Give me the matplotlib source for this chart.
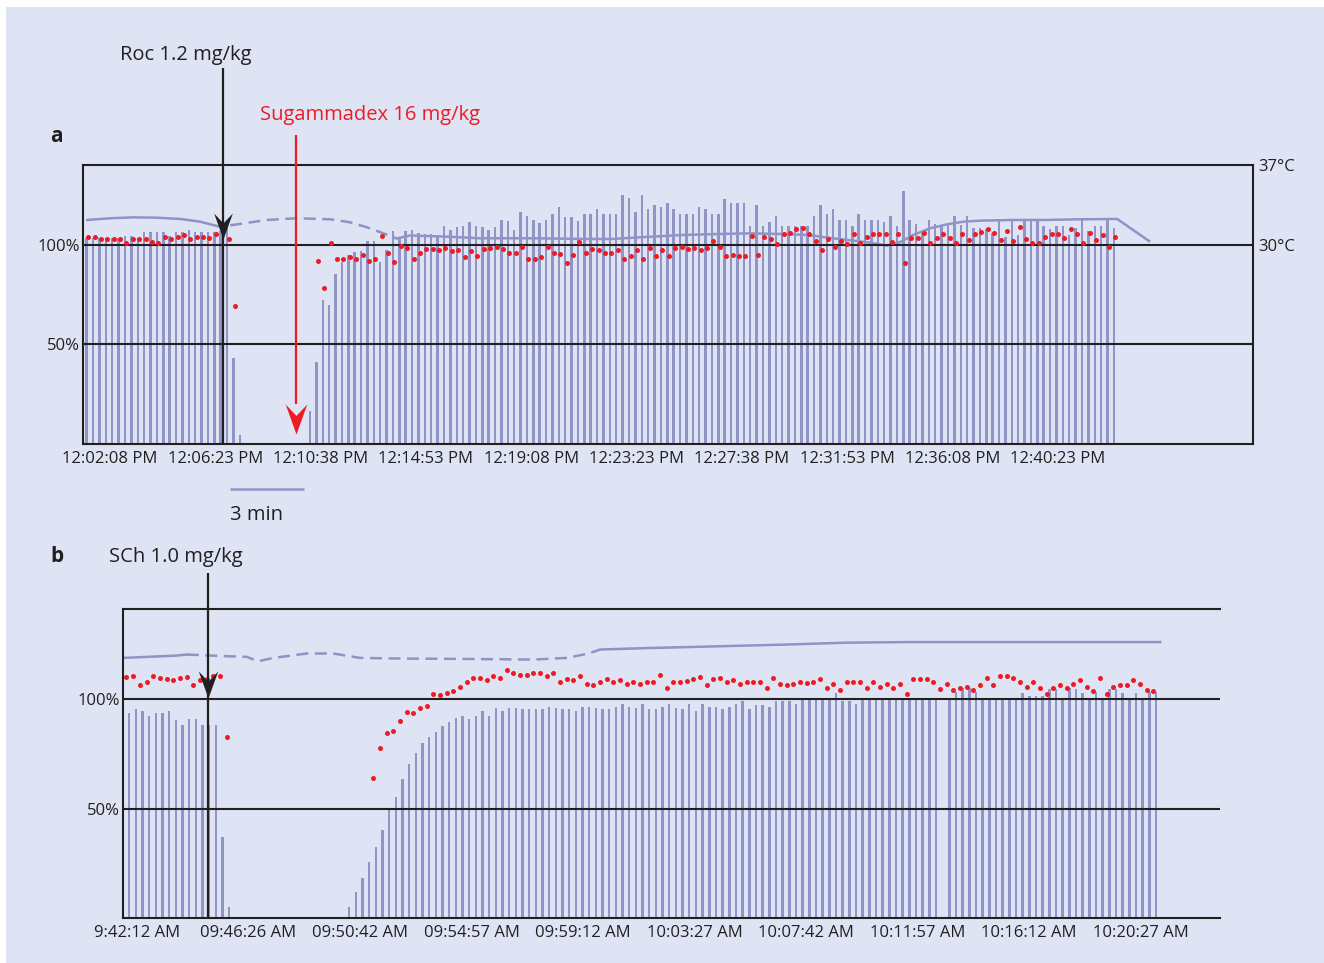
import numpy as np
import matplotlib
matplotlib.use("Agg")
import matplotlib.pyplot as plt
from matplotlib.path import Path
from matplotlib.patches import Rectangle

plt.rcParams['font.family'] = ['Open Sans', 'DejaVu Sans']


def clock(label):
    # "12:02:08 PM" -> seconds since midnight
    parts = label.split()
    h, m, s = [float(v) for v in parts[0].split(':')]
    if len(parts) > 1:
        if parts[1] == 'PM' and h < 12:
            h += 12
        if parts[1] == 'AM' and h == 12:
            h = 0
    return h * 3600 + m * 60 + s


# ---------------- panel a : rocuronium / sugammadex ----------------
a_ticks = ["12:02:08 PM", "12:06:23 PM", "12:10:38 PM", "12:14:53 PM", "12:19:08 PM",
           "12:23:23 PM", "12:27:38 PM", "12:31:53 PM", "12:36:08 PM", "12:40:23 PM"]
a_first = clock("12:01:12 PM") - 0.4   # first TOF sample
a_step = 15.45                          # s between TOF samples
a_origin = clock("12:00:00 PM")

# T1 height (% of baseline), one per sample, 0 = no response
a_t1 = [103.4, 103.4, 103.4, 103.4, 103.4, 103.4, 104.6, 104.6, 103.4, 106.3,
        106.3, 106.3, 106.3, 104.6, 106.3, 106.3, 107.6, 106.3, 106.3, 106.3,
        106.3, 107.0, 109.7, 43.4, 4.4,
        0, 0, 0, 0, 0, 0, 0, 0, 0, 0,
        16.7, 41.3, 72.3, 69.9, 85.5, 91.5, 94.9, 96.6, 97.1,
        102.0, 102.0, 91.5, 97.4, 106.8, 103.4, 106.8, 107.6, 106.0, 105.4,
        105.4, 105.1, 109.7, 107.6, 108.8, 109.4, 111.6, 109.4, 109.0, 107.6,
        109.0, 112.8, 112.2, 107.6, 116.7, 114.4, 112.8, 111.1, 112.8, 115.6,
        119.0, 114.1, 114.1, 112.2, 115.8, 115.6, 117.9, 115.8, 115.6, 115.6,
        125.2, 123.8, 116.7, 125.2, 117.9, 119.9, 119.0, 120.9, 117.9, 115.8,
        115.8, 115.8, 119.0, 117.9, 115.8, 115.8, 123.0, 120.9, 120.9, 120.9,
        109.7, 119.9, 109.7, 111.6, 114.8, 109.7, 109.7, 109.7, 109.7, 109.7,
        114.8, 119.9, 115.8, 117.9, 112.8, 112.8, 109.4, 115.8, 112.8, 112.8,
        112.8, 111.6, 114.8, 109.7, 126.9,
        112.8, 110.7, 107.1, 112.8, 110.6, 109.4, 110.6, 114.8, 110.0, 114.8,
        108.5, 108.5, 108.0, 106.0, 111.9, 104.0, 112.8, 105.1, 112.8, 112.8,
        112.8, 109.7, 108.0, 109.7, 109.7, 105.1, 108.5, 112.4, 107.0, 109.7,
        109.7, 112.4, 108.5]

# TOF ratio (%), None where no ratio was measured
a_ratio = [103.9, 103.9, 102.9, 102.9, 102.9, 102.9, 100.9, 102.9, 102.9, 102.9,
           101.7, 101.2, 103.9, 102.9, 103.9, 105.1, 102.9, 103.9, 103.9, 103.4,
           105.4, None, 102.9, 69.4,
           None, None, None, None, None, None, None, None, None, None, None, None,
           91.8, 78.4, 101.2, 93.2, 93.0, 94.0, 93.2, 95.2, 91.8, 93.2,
           104.6, 96.1, 91.5, 99.6, 98.6, 93.2, 96.1, 98.0, 98.0, 97.5,
           98.6, 97.1, 97.5, 94.0, 97.1, 94.5, 98.0, 98.6, 98.8, 98.0,
           96.1, 96.1, 98.8, 93.2, 93.2, 94.0, 98.8, 96.1, 95.4, 91.2,
           94.9, 101.4, 96.1, 97.8,
           97.4, 96.1, 96.1, 97.4, 93.2, 94.4, 97.4, 93.2, 98.3, 94.6,
           97.7, 94.6, 98.6, 99.0, 98.1, 98.6, 97.7, 98.6, 102.0, 99.1,
           94.4, 94.9, 94.4, 94.4, 104.3, 94.9, 104.1, 102.9, 100.3, 105.4,
           106.0, 108.2, 108.5, 105.4, 102.0, 97.7, 102.9, 99.0, 102.0, 100.3,
           105.6, 100.9, 104.1, 105.4, 105.4, 105.6, 101.7, 105.6, 91.2, 103.4,
           103.4,
           106.0, 100.9, 103.7, 105.6, 103.7, 100.9, 105.6, 102.6, 105.4, 106.3,
           108.2, 106.0, 102.6, 106.8, 102.0, 109.0, 102.9, 100.9, 100.9, 103.9,
           105.6, 105.6, 103.4, 108.0, 105.6, 100.9, 106.0, 102.4, 105.1, 98.8,
           103.9]

# central temperature (°C); times in s after 12:00:00
a_temp1_t = [73, 128, 184, 241, 298, 346, 378, 394]
a_temp1 = [32.19, 32.34, 32.42, 32.39, 32.28, 32.04, 31.75, 31.60]
a_temp2_t = [419, 508, 580, 661, 709, 750, 790, 822]
a_temp2 = [31.72, 32.19, 32.34, 32.25, 31.99, 31.55, 31.02, 30.57]
a_temp3_t = [822, 855, 943, 1024, 1152, 1273, 1346, 1395, 1516, 1598, 1678, 1758, 1816,
             1879, 1961, 2010, 2041, 2073, 2114, 2155, 2194, 2235, 2315, 2395, 2477, 2567, 2644]
a_temp3 = [30.57, 30.83, 30.73, 30.59, 30.59, 30.53, 30.53, 30.64, 30.88, 30.96, 31.02, 30.96, 30.88,
           30.59, 30.24, 29.94, 30.24, 30.88, 31.46, 31.81, 32.04, 32.13, 32.19, 32.19, 32.25, 32.28, 30.35]

roc_time = clock("12:06:41 PM")
sug_time = clock("12:09:38 PM")
scale_min = 3

# ---------------- panel b : succinylcholine ----------------
b_ticks = ["9:42:12 AM", "09:46:26 AM", "09:50:42 AM", "09:54:57 AM", "09:59:12 AM",
           "10:03:27 AM", "10:07:42 AM", "10:11:57 AM", "10:16:12 AM", "10:20:27 AM"]
b_first = clock("09:41:54 AM")
b_step = 15.25
b_origin = clock("09:00:00 AM")

b_t1 = [93.9, 95.4, 94.8, 92.4, 93.9, 93.9, 94.8, 90.5, 88.2, 91.1,
        91.1, 88.2, 88.2, 88.2, 37.2, 4.9,
        0, 0, 0, 0, 0, 0, 0, 0, 0, 0, 0, 0, 0, 0, 0, 0, 0,
        4.9, 11.7, 18.4, 25.7, 32.3, 40.2, 49.4, 55.5, 63.4, 70.4,
        75.6, 79.9, 82.9, 85.2, 87.8, 89.5, 91.3, 92.4, 91.0, 92.4,
        94.6, 92.4, 95.9, 94.6, 95.9, 95.9, 95.4, 95.4, 95.4, 95.4,
        96.6, 95.9, 95.4, 95.4, 94.6, 96.6, 96.6, 95.9,
        95.7, 95.7, 96.6, 97.7, 96.6, 96.2, 98.0, 95.7, 95.7, 96.6,
        97.7, 96.2, 95.7, 98.0, 94.6, 97.7, 96.6, 96.6, 95.7, 96.6,
        97.7, 99.2, 95.7, 97.4, 97.4, 96.6, 99.2, 99.2, 99.2, 98.0,
        100.5, 100.5, 100.0, 100.5, 100.0, 103.0, 99.2, 99.2, 97.7, 100.5,
        100.5, 100.0, 100.0, 100.5, 99.7, 100.5, 100.0, 100.5, 100.0,
        100.4, 100.4, 0, 100.4, 103.5, 105.0, 105.0, 103.5, 100.4, 100.4,
        100.4, 100.4, 100.4, 100.4, 102.7, 101.5, 101.5, 101.5, 104.6, 104.6,
        100.4, 105.0, 104.6, 102.7, 100.4, 103.5, 100.4, 104.6, 104.6, 102.7,
        100.4, 102.7, 100.4, 103.5, 103.5]

b_ratio = [110.1, 110.8, 106.5, 108.0, 110.7, 109.9, 109.1, 108.8, 109.9, 110.1,
           106.5, 108.8, 109.1, 110.7, 110.7, 82.9] + [None] * 21 + \
          [64.2, 77.6, 84.4, 85.6, 90.1, 94.3, 93.6, 95.9, 96.9, 102.3,
           102.0, 102.7, 103.8, 105.5, 108.0, 109.9, 109.6, 108.8, 110.8, 109.6,
           113.4, 112.2, 111.1, 111.1, 112.2, 111.9, 110.7, 111.9, 107.8, 109.1,
           108.8, 110.8, 107.0, 106.5, 108.0,
           109.1, 107.9, 108.8, 107.1, 107.9, 106.9, 107.9, 107.9, 111.1, 105.3,
           108.1, 108.1, 108.4, 109.1, 110.2, 106.6, 109.1, 109.9, 108.1, 108.8,
           106.9, 107.9, 107.9, 108.1, 105.3, 109.9, 106.9, 106.5, 106.9, 107.9,
           107.4, 107.9, 109.1, 105.0, 106.9, 104.3, 107.9, 107.9, 107.9, 105.0,
           108.1, 105.6, 106.9, 105.3, 106.9, 102.3, 109.1, 109.4, 109.1,
           107.8, 104.7, 106.9, 104.3, 105.3, 105.8, 104.3, 106.5, 109.9, 106.5,
           110.8, 110.8, 109.9, 108.0, 105.5, 108.0, 105.0, 102.3, 105.0, 106.5,
           105.3, 106.9, 108.8, 105.5, 103.8, 109.6, 102.3, 105.8, 106.5, 106.5,
           108.8, 106.9, 104.3, 103.8]

# times in s after 09:00:00
b_temp1_t = [2501, 2623, 2646]
b_temp1 = [33.21, 33.39, 33.47]
b_temp2_t = [2646, 2737, 2783, 2809, 2844, 2920, 2981, 3042, 3134, 3286, 3438, 3515, 3553, 3579]
b_temp2 = [33.47, 33.34, 33.29, 32.95, 33.21, 33.55, 33.55, 33.21, 33.16, 33.13, 33.08, 33.21, 33.47, 33.71]
b_temp3_t = [3579, 3591, 3698, 3850, 4003, 4155, 4305, 4872]
b_temp3 = [33.71, 33.86, 33.97, 34.10, 34.23, 34.39, 34.44, 34.44]

sch_time = clock("09:44:55 AM")

# ---------------- styling ----------------
BG = '#dfe4f4'
BAR = '#9195c6'
TEMP = '#8f93c5'
RED = '#ed1c24'
INK = '#231f20'
W, H = 1324, 963

HEAD = Path([(0, 0), (0.36, 1), (0, 0.62), (-0.36, 1), (0, 0)],
            [Path.MOVETO, Path.LINETO, Path.LINETO, Path.LINETO, Path.CLOSEPOLY])


def drug_arrow(ax, t, y_from, y_to, tip, color, head_px):
    ax.plot([t, t], [y_from, y_to], color=color, lw=1.6, clip_on=False,
            zorder=6, solid_capstyle='butt')
    ax.plot([t], [tip], marker=HEAD, ms=2 * head_px * 0.72, color=color,
            mew=0, clip_on=False, zorder=7)


def tof_panel(ax, first, step, t1, ratio, dot_lag, bar_w, ytop):
    t1 = np.array(t1, dtype=float)
    ratio = np.array(ratio, dtype=float)
    times = first + step * np.arange(len(t1))
    ax.bar(times, t1, width=bar_w, color=BAR, linewidth=0, zorder=2)
    ax.plot(times + dot_lag, ratio, 'o', ms=3.6, color=RED, mew=0, zorder=5)
    for level in (50, 100):
        ax.axhline(level, color=INK, lw=1.5, zorder=4)
    ax.set_ylim(0, ytop)
    ax.set_yticks([50, 100], ['50%', '100%'])
    ax.patch.set_visible(False)
    for sp in ax.spines.values():
        sp.set_color(INK)
        sp.set_linewidth(1.5)
        sp.set_zorder(4)
    ax.tick_params(length=0, labelsize=12, colors=INK)
    ax.tick_params(axis='x', pad=5)
    ax.tick_params(axis='y', pad=2)

    # temperature on a twin scale: 30 °C on the 100% line, 37 °C at the top
    tw = ax.twinx()
    tw.set_zorder(ax.get_zorder() - 1)
    f = 100.0 / ytop
    tw.set_ylim(30 - f / (1 - f) * 7, 37)
    for sp in tw.spines.values():
        sp.set_visible(False)
    tw.tick_params(length=0, labelsize=12, colors=INK, pad=4)
    return tw


fig = plt.figure(figsize=(W / 100, H / 100), dpi=100)
fig.patches.append(Rectangle((6 / W, 0), 1, 1 - 7 / H, transform=fig.transFigure,
                             facecolor=BG, edgecolor='none', zorder=-10))

# panel a
ax_a = fig.add_axes([83 / W, 1 - 444 / H, (1253 - 83) / W, (444 - 165) / H])
tw_a = tof_panel(ax_a, a_first, a_step, a_t1, a_ratio, 3.6, 6.0, 140.2)
ax_a.set_xlim(a_origin + 62.6, a_origin + 2895.9)
ax_a.set_xticks([clock(s) for s in a_ticks], a_ticks)
tw_a.set_yticks([30, 37], ['30°C', '37°C'])
for tt, tv, ls in ((a_temp1_t, a_temp1, '-'), (a_temp2_t, a_temp2, '--'), (a_temp3_t, a_temp3, '-')):
    line, = tw_a.plot(a_origin + np.array(tt), tv, color=TEMP, lw=1.8, ls=ls)
    if ls == '--':
        line.set_dashes((4.8, 2.6))

drug_arrow(ax_a, roc_time, 189, 0, 103, INK, 26)
drug_arrow(ax_a, sug_time, 155.3, 20, 5, RED, 30)

# 3 min scale bar under the axis
sb_mid = a_origin + 508
ax_a.plot([sb_mid - scale_min * 30, sb_mid + scale_min * 30], [-22.6, -22.6],
          color=BAR, lw=1.8, clip_on=False, solid_capstyle='butt')
fig.text(257 / W, 1 - 515 / H, f'{scale_min} min', ha='center', va='center',
         fontsize=14.5, color=INK)

fig.text(56 / W, 1 - 136 / H, 'a', ha='center', va='center', fontsize=15,
         fontweight='bold', color=INK)
fig.text(186 / W, 1 - 55 / H, 'Roc 1.2 mg/kg', ha='center', va='center',
         fontsize=14.5, color=INK)
fig.text(370 / W, 1 - 115 / H, 'Sugammadex 16 mg/kg', ha='center', va='center',
         fontsize=14.5, color=RED)

# panel b
ax_b = fig.add_axes([123 / W, 1 - 918 / H, (1220 - 123) / W, (918 - 609) / H])
tw_b = tof_panel(ax_b, b_first, b_step, b_t1, b_ratio, -6.0, 5.7, 141.3)
ax_b.spines['right'].set_visible(False)
ax_b.set_xlim(b_origin + 2500, b_origin + 5008.8)
ax_b.set_xticks([clock(s) for s in b_ticks], b_ticks)
tw_b.set_yticks([])
for tt, tv, ls in ((b_temp1_t, b_temp1, '-'), (b_temp2_t, b_temp2, '--'), (b_temp3_t, b_temp3, '-')):
    line, = tw_b.plot(b_origin + np.array(tt), tv, color=TEMP, lw=1.8, ls=ls)
    if ls == '--':
        line.set_dashes((4.8, 2.6))

drug_arrow(ax_b, sch_time, 157.7, 0, 100.6, INK, 27)

fig.text(57 / W, 1 - 557 / H, 'b', ha='center', va='center', fontsize=15,
         fontweight='bold', color=INK)
fig.text(176 / W, 1 - 557 / H, 'SCh 1.0 mg/kg', ha='center', va='center',
         fontsize=14.5, color=INK)

fig.savefig('out.png', dpi=100, facecolor='white')
